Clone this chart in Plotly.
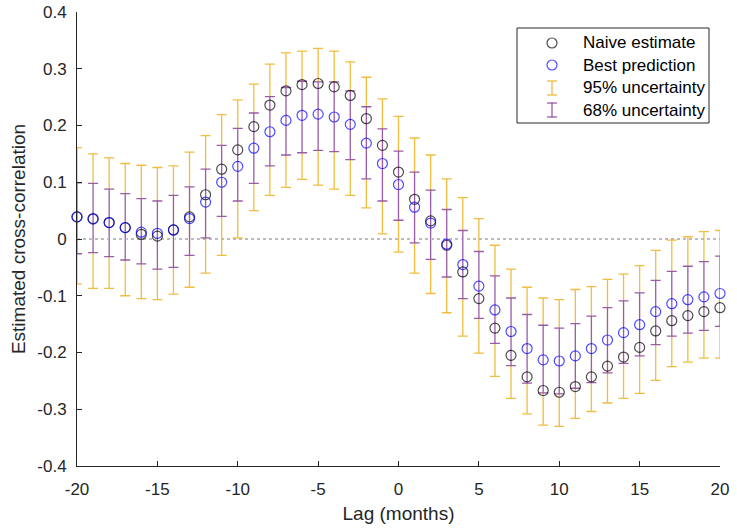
import plotly.graph_objects as go

lags = list(range(-20, 21))
naive = [0.039, 0.036, 0.029, 0.020, 0.008, 0.005, 0.016, 0.039, 0.078, 0.123,
         0.157, 0.198, 0.236, 0.261, 0.272, 0.274, 0.268, 0.253, 0.212, 0.165,
         0.118, 0.070, 0.032, -0.011, -0.058, -0.105, -0.157, -0.205, -0.243, -0.267,
         -0.270, -0.260, -0.243, -0.224, -0.208, -0.191, -0.162, -0.144, -0.135, -0.128,
         -0.121]
best = [0.039, 0.035, 0.029, 0.020, 0.012, 0.010, 0.016, 0.036, 0.065, 0.100,
        0.128, 0.160, 0.189, 0.209, 0.218, 0.220, 0.215, 0.202, 0.169, 0.133,
        0.096, 0.056, 0.028, -0.009, -0.045, -0.083, -0.125, -0.163, -0.193, -0.213,
        -0.215, -0.206, -0.193, -0.178, -0.165, -0.151, -0.128, -0.114, -0.107, -0.102,
        -0.096]
hi95 = [0.161, 0.150, 0.143, 0.133, 0.130, 0.126, 0.129, 0.153, 0.182, 0.219,
        0.245, 0.273, 0.308, 0.328, 0.331, 0.336, 0.331, 0.312, 0.285, 0.247,
        0.216, 0.178, 0.148, 0.106, 0.073, 0.036, -0.011, -0.053, -0.085, -0.104,
        -0.107, -0.089, -0.084, -0.071, -0.062, -0.047, -0.020, -0.002, 0.004, 0.013,
        0.015]
lo95 = [-0.079, -0.087, -0.087, -0.100, -0.105, -0.107, -0.097, -0.085, -0.060, -0.029,
        0.002, 0.050, 0.077, 0.091, 0.105, 0.095, 0.088, 0.077, 0.055, 0.009,
        -0.023, -0.060, -0.096, -0.130, -0.171, -0.201, -0.242, -0.281, -0.308, -0.328,
        -0.330, -0.316, -0.304, -0.289, -0.281, -0.272, -0.249, -0.225, -0.217, -0.210,
        -0.210]
hi68 = [0.099, 0.098, 0.088, 0.080, 0.071, 0.067, 0.077, 0.092, 0.123, 0.165,
        0.195, 0.222, 0.251, 0.267, 0.278, 0.277, 0.277, 0.261, 0.233, 0.194,
        0.155, 0.118, 0.086, 0.052, 0.015, -0.022, -0.065, -0.104, -0.133, -0.152,
        -0.157, -0.149, -0.136, -0.121, -0.109, -0.095, -0.073, -0.057, -0.048, -0.040,
        -0.030]
lo68 = [-0.026, -0.024, -0.031, -0.037, -0.044, -0.053, -0.050, -0.029, 0.002, 0.040,
        0.067, 0.098, 0.129, 0.148, 0.152, 0.156, 0.154, 0.140, 0.106, 0.067,
        0.033, -0.007, -0.036, -0.067, -0.105, -0.140, -0.184, -0.223, -0.254, -0.271,
        -0.273, -0.263, -0.253, -0.236, -0.219, -0.206, -0.186, -0.171, -0.166, -0.161,
        -0.154]
xticks = [-20, -15, -10, -5, 0, 5, 10, 15, 20]
xticklabels = ["-20", "-15", "-10", "-5", "0", "5", "10", "15", "20"]
yticks = [-0.4, -0.3, -0.2, -0.1, 0, 0.1, 0.2, 0.3, 0.4]
yticklabels = ["-0.4", "-0.3", "-0.2", "-0.1", "0", "0.1", "0.2", "0.3", "0.4"]

GOLD = "rgba(237,177,32,0.85)"
PURPLE = "rgba(126,47,142,0.78)"
BLACK = "rgba(0,0,0,0.7)"
BLUE = "rgba(0,0,255,0.7)"
FONT = "Liberation Sans, Arial, sans-serif"
AX = "rgb(38,38,38)"

up68 = [h - b for h, b in zip(hi68, best)]
dn68 = [b - l for l, b in zip(lo68, best)]

fig = go.Figure()

fig.add_trace(go.Scatter(x=[lags[0], lags[-1]], y=[0, 0], mode="lines",
                         line=dict(color="rgba(110,110,110,0.9)", width=1, dash="dot"),
                         showlegend=False, hoverinfo="skip"))

fig.add_trace(go.Scatter(
    x=lags, y=best, mode="markers", marker=dict(size=1, color="rgba(0,0,0,0)"),
    error_y=dict(type="data", symmetric=False,
                 array=[h - b for h, b in zip(hi95, best)],
                 arrayminus=[b - l for l, b in zip(lo95, best)],
                 color=GOLD, thickness=1.3, width=5),
    cliponaxis=False, showlegend=False, name="95% uncertainty"))

# white mask so the 68% bars are not tinted by the 95% bars underneath
fig.add_trace(go.Scatter(
    x=lags, y=best, mode="markers", marker=dict(size=1, color="rgba(0,0,0,0)"),
    error_y=dict(type="data", symmetric=False, array=up68, arrayminus=dn68,
                 color="white", thickness=2.5, width=0),
    cliponaxis=False, showlegend=False, hoverinfo="skip"))

fig.add_trace(go.Scatter(
    x=lags, y=best, mode="markers", marker=dict(size=1, color="rgba(0,0,0,0)"),
    error_y=dict(type="data", symmetric=False, array=up68, arrayminus=dn68,
                 color=PURPLE, thickness=1.3, width=5),
    cliponaxis=False, showlegend=False, name="68% uncertainty"))

fig.add_trace(go.Scatter(
    x=lags, y=naive, mode="markers", name="Naive estimate",
    marker=dict(symbol="circle-open", size=10, color=BLACK, line=dict(width=1.2, color=BLACK)),
    cliponaxis=False, showlegend=False))

fig.add_trace(go.Scatter(
    x=lags, y=best, mode="markers", name="Best prediction",
    marker=dict(symbol="circle-open", size=10, color=BLUE, line=dict(width=1.2, color=BLUE)),
    cliponaxis=False, showlegend=False))

# custom legend (paper coords; plot area 77..720 px wide, 12..466 px tall)
W, H, L, T = 643.0, 454.0, 77.0, 12.0
def px(xp):
    return (xp - L) / W
def py(yp):
    return (T + H - yp) / H

shapes = [dict(type="rect", xref="paper", yref="paper",
               x0=px(517), x1=px(709), y0=py(123), y1=py(28),
               line=dict(color=AX, width=1), fillcolor="white", layer="above")]
sym_x = 552
rows = [("Naive estimate", 43), ("Best prediction", 65),
        ("95% uncertainty", 88), ("68% uncertainty", 110)]
for (lab, yy), col in zip(rows[:2], [BLACK, BLUE]):
    shapes.append(dict(type="circle", xref="paper", yref="paper",
                       xsizemode="pixel", ysizemode="pixel",
                       xanchor=px(sym_x), yanchor=py(yy),
                       x0=-5, x1=5, y0=-5, y1=5,
                       line=dict(color=col, width=1.2), layer="above"))
for (lab, yy), col in zip(rows[2:], [GOLD, PURPLE]):
    for seg in [(0, -7, 0, 7), (-5, 7, 5, 7), (-5, -7, 5, -7)]:
        shapes.append(dict(type="line", xref="paper", yref="paper",
                           xsizemode="pixel", ysizemode="pixel",
                           xanchor=px(sym_x), yanchor=py(yy),
                           x0=seg[0], y0=seg[1], x1=seg[2], y1=seg[3],
                           line=dict(color=col, width=1.3), layer="above"))

annotations = []
for lab, yy in rows:
    annotations.append(dict(xref="paper", yref="paper", x=px(581), y=py(yy),
                            text=lab, showarrow=False, xanchor="left", yanchor="middle",
                            font=dict(family=FONT, size=17, color="black")))

fig.update_layout(
    width=737, height=528,
    margin=dict(l=77, r=17, t=12, b=62, autoexpand=False),
    paper_bgcolor="white", plot_bgcolor="white",
    font=dict(family=FONT, size=17, color=AX),
    shapes=shapes, annotations=annotations,
    showlegend=False,
)
fig.update_xaxes(range=[-20, 20], tickmode="array", tickvals=xticks, ticktext=xticklabels,
                 ticks="inside", ticklen=5, tickcolor=AX, automargin=False,
                 showline=True, linecolor=AX, linewidth=1,
                 showgrid=False, zeroline=False, mirror=False,
                 title=dict(text="Lag (months)", font=dict(size=19), standoff=8),
                 tickfont=dict(size=17), ticklabelstandoff=8)
fig.update_yaxes(range=[-0.4, 0.4], tickmode="array", tickvals=yticks, ticktext=yticklabels,
                 ticks="inside", ticklen=5, tickcolor=AX, automargin=False,
                 showline=True, linecolor=AX, linewidth=1,
                 showgrid=False, zeroline=False, mirror=False,
                 title=dict(text="Estimated cross-correlation", font=dict(size=19), standoff=6),
                 tickfont=dict(size=17), ticklabelstandoff=6)

fig.write_html("out.html")
